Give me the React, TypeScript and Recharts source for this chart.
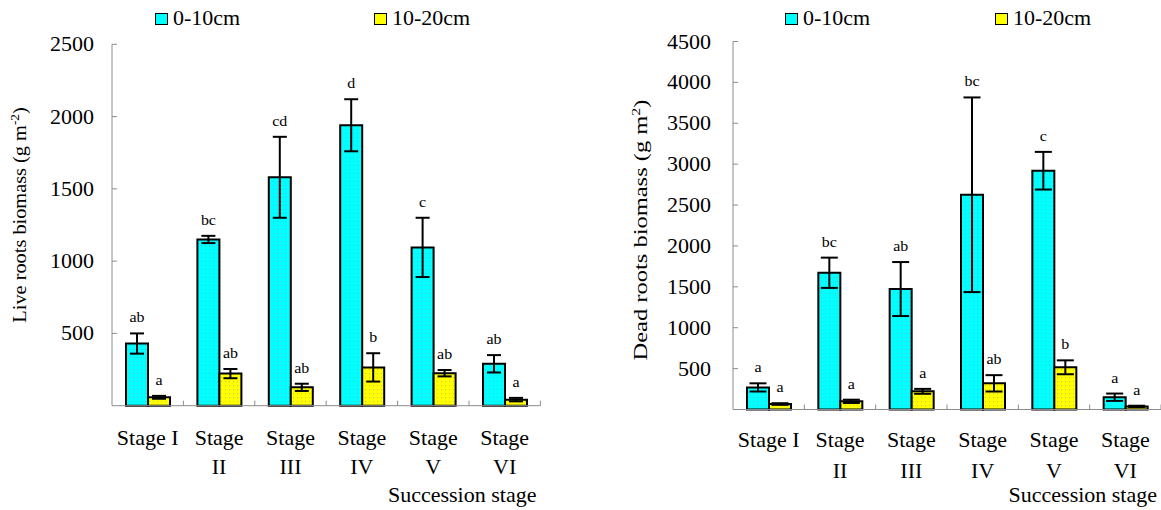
import React from 'react';
import { BarChart, Bar, XAxis, YAxis, ErrorBar, LabelList, Legend } from 'recharts';

// ---------- data ----------
const stages = ['Stage I', 'Stage II', 'Stage III', 'Stage IV', 'Stage V', 'Stage VI'];
const tickLine1 = ['Stage I', 'Stage', 'Stage', 'Stage', 'Stage', 'Stage'];
const tickLine2 = ['', 'II', 'III', 'IV', 'V', 'VI'];
const seriesNames = ['0-10cm', '10-20cm'];

// Live roots biomass
const liveTop = [430, 1150, 1580, 1940, 1095, 290];
const liveTopErr = [70, 25, 280, 180, 205, 60];
const liveTopLetters = ['ab', 'bc', 'cd', 'd', 'c', 'ab'];
const liveSub = [58, 222, 127, 265, 225, 42];
const liveSubErr = [10, 32, 25, 98, 22, 12];
const liveSubLetters = ['a', 'ab', 'ab', 'b', 'ab', 'a'];
const liveTicks = [500, 1000, 1500, 2000, 2500];

// Dead roots biomass
const deadTop = [270, 1672, 1473, 2626, 2920, 150];
const deadTopErr = [50, 185, 330, 1190, 230, 45];
const deadTopLetters = ['a', 'bc', 'ab', 'bc', 'c', 'a'];
const deadSub = [67, 100, 222, 320, 516, 38];
const deadSubErr = [10, 20, 30, 100, 85, 8];
const deadSubLetters = ['a', 'a', 'a', 'ab', 'b', 'a'];
const deadTicks = [500, 1000, 1500, 2000, 2500, 3000, 3500, 4000, 4500];

// ---------- style ----------
const FONT = '"Liberation Serif", "Times New Roman", Times, serif';
const CYAN = '#00FFFF';
const YELLOW = '#FFFF00';
const AXIS = '#8c8c8c';
const seriesColors = [CYAN, YELLOW];
const serif = { fontFamily: FONT };

type PanelProps = {
  id: string;
  left: number;
  width: number;
  plotLeft: number;
  marginRight: number;
  marginTop: number;
  xAxisHeight: number;
  yMax: number;
  ticks: number[];
  top: number[];
  topErr: number[];
  topLetters: string[];
  sub: number[];
  subErr: number[];
  subLetters: string[];
  yLabelMain: string;
  yLabelSup: string;
  yLabelX: number;
  yLabelY: number;
  yLabelSize: number;
  yLabelScale: number;
  yTickGap: number;
  tickScale: number;
  capHalf: number;
  row1: number;
  row2: number;
  succY: number;
  legendX: number[];
};

function Panel(p: PanelProps) {
  const data = stages.map((s, i) => ({
    stage: s,
    top: p.top[i],
    topErr: p.topErr[i],
    topL: p.topLetters[i],
    sub: p.sub[i],
    subErr: p.subErr[i],
    subL: p.subLetters[i],
  }));
  const plotW = p.width - p.plotLeft - p.marginRight;
  const catW = plotW / stages.length;

  const YTick = (t: any) => {
    const { x, y, payload } = t;
    return (
      <g>
        <line x1={x} y1={y} x2={x + 5} y2={y} stroke={AXIS} strokeWidth={1} />
        <text
          transform={`translate(${x - p.yTickGap},${y}) scale(${p.tickScale},1)`}
          textAnchor="end"
          dy="0.35em"
          style={serif}
          fontSize={20}
          fill="#000"
        >
          {payload.value}
        </text>
      </g>
    );
  };

  const XTick = (t: any) => {
    const { x, y, index } = t;
    const bx = x + catW / 2;
    return (
      <g>
        <line x1={bx} y1={y} x2={bx} y2={y - 5} stroke={AXIS} strokeWidth={1} />
        <text
          transform={`translate(${x},${y + p.row1}) scale(${p.tickScale},1)`}
          textAnchor="middle"
          style={serif}
          fontSize={20}
          fill="#000"
        >
          {tickLine1[index]}
        </text>
        {tickLine2[index] ? (
          <text
            transform={`translate(${x},${y + p.row2}) scale(${p.tickScale},1)`}
            textAnchor="middle"
            style={serif}
            fontSize={20}
            fill="#000"
          >
            {tickLine2[index]}
          </text>
        ) : null}
      </g>
    );
  };

  const letter = (vals: number[], errs: number[]) => (props: any) => {
    const vb = props.viewBox || props;
    const x = Number(props.x ?? vb.x);
    const y = Number(props.y ?? vb.y);
    const w = Number(props.width ?? vb.width);
    const h = Number(props.height ?? vb.height);
    const i = props.index;
    const ppu = Math.abs(h) / vals[i];
    const cx = x + w / 2;
    const ty = y - errs[i] * ppu - 11;
    return (
      <text
        transform={`translate(${cx},${ty}) scale(1.1,1)`}
        textAnchor="middle"
        style={serif}
        fontSize={14.5}
        fill="#000"
      >
        {props.value}
      </text>
    );
  };

  const yLabel = () => (
    <text
      transform={`translate(${p.yLabelX},${p.yLabelY}) rotate(-90) scale(${p.yLabelScale},1)`}
      textAnchor="middle"
      style={serif}
      fontSize={p.yLabelSize}
      fill="#000"
    >
      {p.yLabelMain}
      <tspan dy={-7} fontSize={p.yLabelSize * 0.65}>
        {p.yLabelSup}
      </tspan>
      <tspan dy={7}>)</tspan>
    </text>
  );

  const xLabel = (lp: any) => {
    const vb = lp.viewBox || {};
    const xr = (vb.x ?? p.plotLeft) + (vb.width ?? plotW) - 4;
    return (
      <text
        transform={`translate(${xr},${p.succY}) scale(${p.tickScale},1)`}
        textAnchor="end"
        style={serif}
        fontSize={20}
        fill="#000"
      >
        Succession stage
      </text>
    );
  };

  const legendContent = () => (
    <div style={{ position: 'relative', width: p.width, height: 36 }}>
      {seriesNames.map((n, i) => (
        <React.Fragment key={n}>
          <div
            style={{
              position: 'absolute',
              left: p.legendX[i],
              top: 12.5,
              width: 13,
              height: 12,
              boxSizing: 'border-box',
              border: '1.5px solid #000',
              background: seriesColors[i],
            }}
          />
          <div
            style={{
              position: 'absolute',
              left: p.legendX[i] + 18,
              top: 7.5,
              fontFamily: FONT,
              fontSize: 20,
              lineHeight: '20px',
              whiteSpace: 'nowrap',
              color: '#000',
              transform: `scale(${p.tickScale},1)`,
              transformOrigin: 'left center',
            }}
          >
            {n}
          </div>
        </React.Fragment>
      ))}
    </div>
  );

  return (
    <div style={{ position: 'absolute', left: p.left, top: 0, width: p.width, height: 510 }}>
      <BarChart
        width={p.width}
        height={510}
        data={data}
        barGap={0}
        margin={{ top: p.marginTop, right: p.marginRight, bottom: 0, left: 0 }}
        style={serif}
      >
        <defs>
          <pattern id={`${p.id}-c`} width={4} height={4} patternUnits="userSpaceOnUse">
            <rect width={4} height={4} fill={CYAN} />
            <rect x={1} y={1} width={1} height={1} fill="#3fc9d6" />
          </pattern>
          <pattern id={`${p.id}-y`} width={4} height={4} patternUnits="userSpaceOnUse">
            <rect width={4} height={4} fill={YELLOW} />
            <rect x={1} y={1} width={1} height={1} fill="#c9c93f" />
          </pattern>
        </defs>
        <XAxis
          dataKey="stage"
          interval={0}
          height={p.xAxisHeight}
          axisLine={{ stroke: AXIS, strokeWidth: 1 }}
          tickLine={false}
          tickSize={0}
          tickMargin={0}
          tick={XTick}
          label={{ content: xLabel }}
        />
        <YAxis
          type="number"
          domain={[0, p.yMax]}
          ticks={p.ticks}
          interval={0}
          width={p.plotLeft}
          axisLine={{ stroke: AXIS, strokeWidth: 1 }}
          tickLine={false}
          tickSize={0}
          tickMargin={0}
          tick={YTick}
          label={{ content: yLabel }}
        />
        <Legend
          layout="horizontal"
          verticalAlign="middle"
          align="center"
          wrapperStyle={{ position: 'absolute', top: 0, left: 0, width: p.width, height: 36 }}
          content={legendContent}
        />
        <Bar
          dataKey="top"
          name={seriesNames[0]}
          fill={`url(#${p.id}-c)`}
          stroke="#000"
          strokeWidth={2}
          barSize={22}
          isAnimationActive={false}
        >
          <ErrorBar dataKey="topErr" width={p.capHalf} strokeWidth={2} stroke="#000" direction="y" />
          <LabelList dataKey="topL" content={letter(p.top, p.topErr)} />
        </Bar>
        <Bar
          dataKey="sub"
          name={seriesNames[1]}
          fill={`url(#${p.id}-y)`}
          stroke="#000"
          strokeWidth={2}
          barSize={22}
          isAnimationActive={false}
        >
          <ErrorBar dataKey="subErr" width={p.capHalf} strokeWidth={2} stroke="#000" direction="y" />
          <LabelList dataKey="subL" content={letter(p.sub, p.subErr)} />
        </Bar>
      </BarChart>
    </div>
  );
}

export default function App() {
  return (
    <div
      style={{
        position: 'absolute',
        left: 0,
        top: 0,
        width: 1161,
        height: 510,
        background: '#fff',
        overflow: 'hidden',
      }}
    >
      <Panel
        id="live"
        left={0}
        width={580}
        plotLeft={112}
        marginRight={39.6}
        marginTop={44.3}
        xAxisHeight={104.3}
        yMax={2500}
        ticks={liveTicks}
        top={liveTop}
        topErr={liveTopErr}
        topLetters={liveTopLetters}
        sub={liveSub}
        subErr={liveSubErr}
        subLetters={liveSubLetters}
        yLabelMain="Live roots biomass (g m"
        yLabelSup="-2"
        yLabelX={26}
        yLabelY={215}
        yLabelSize={18}
        yLabelScale={1.13}
        yTickGap={18}
        tickScale={1.1}
        capHalf={7}
        row1={39.5}
        row2={68}
        succY={502}
        legendX={[155, 374]}
      />
      <Panel
        id="dead"
        left={580}
        width={581}
        plotLeft={153}
        marginRight={0}
        marginTop={41.5}
        xAxisHeight={100.5}
        yMax={4500}
        ticks={deadTicks}
        top={deadTop}
        topErr={deadTopErr}
        topLetters={deadTopLetters}
        sub={deadSub}
        subErr={deadSubErr}
        subLetters={deadSubLetters}
        yLabelMain="Dead roots biomass (g m"
        yLabelSup="2"
        yLabelX={67}
        yLabelY={230}
        yLabelSize={19}
        yLabelScale={1.29}
        yTickGap={22}
        tickScale={1.1}
        capHalf={8.5}
        row1={37.5}
        row2={68.5}
        succY={502}
        legendX={[205, 415]}
      />
    </div>
  );
}
